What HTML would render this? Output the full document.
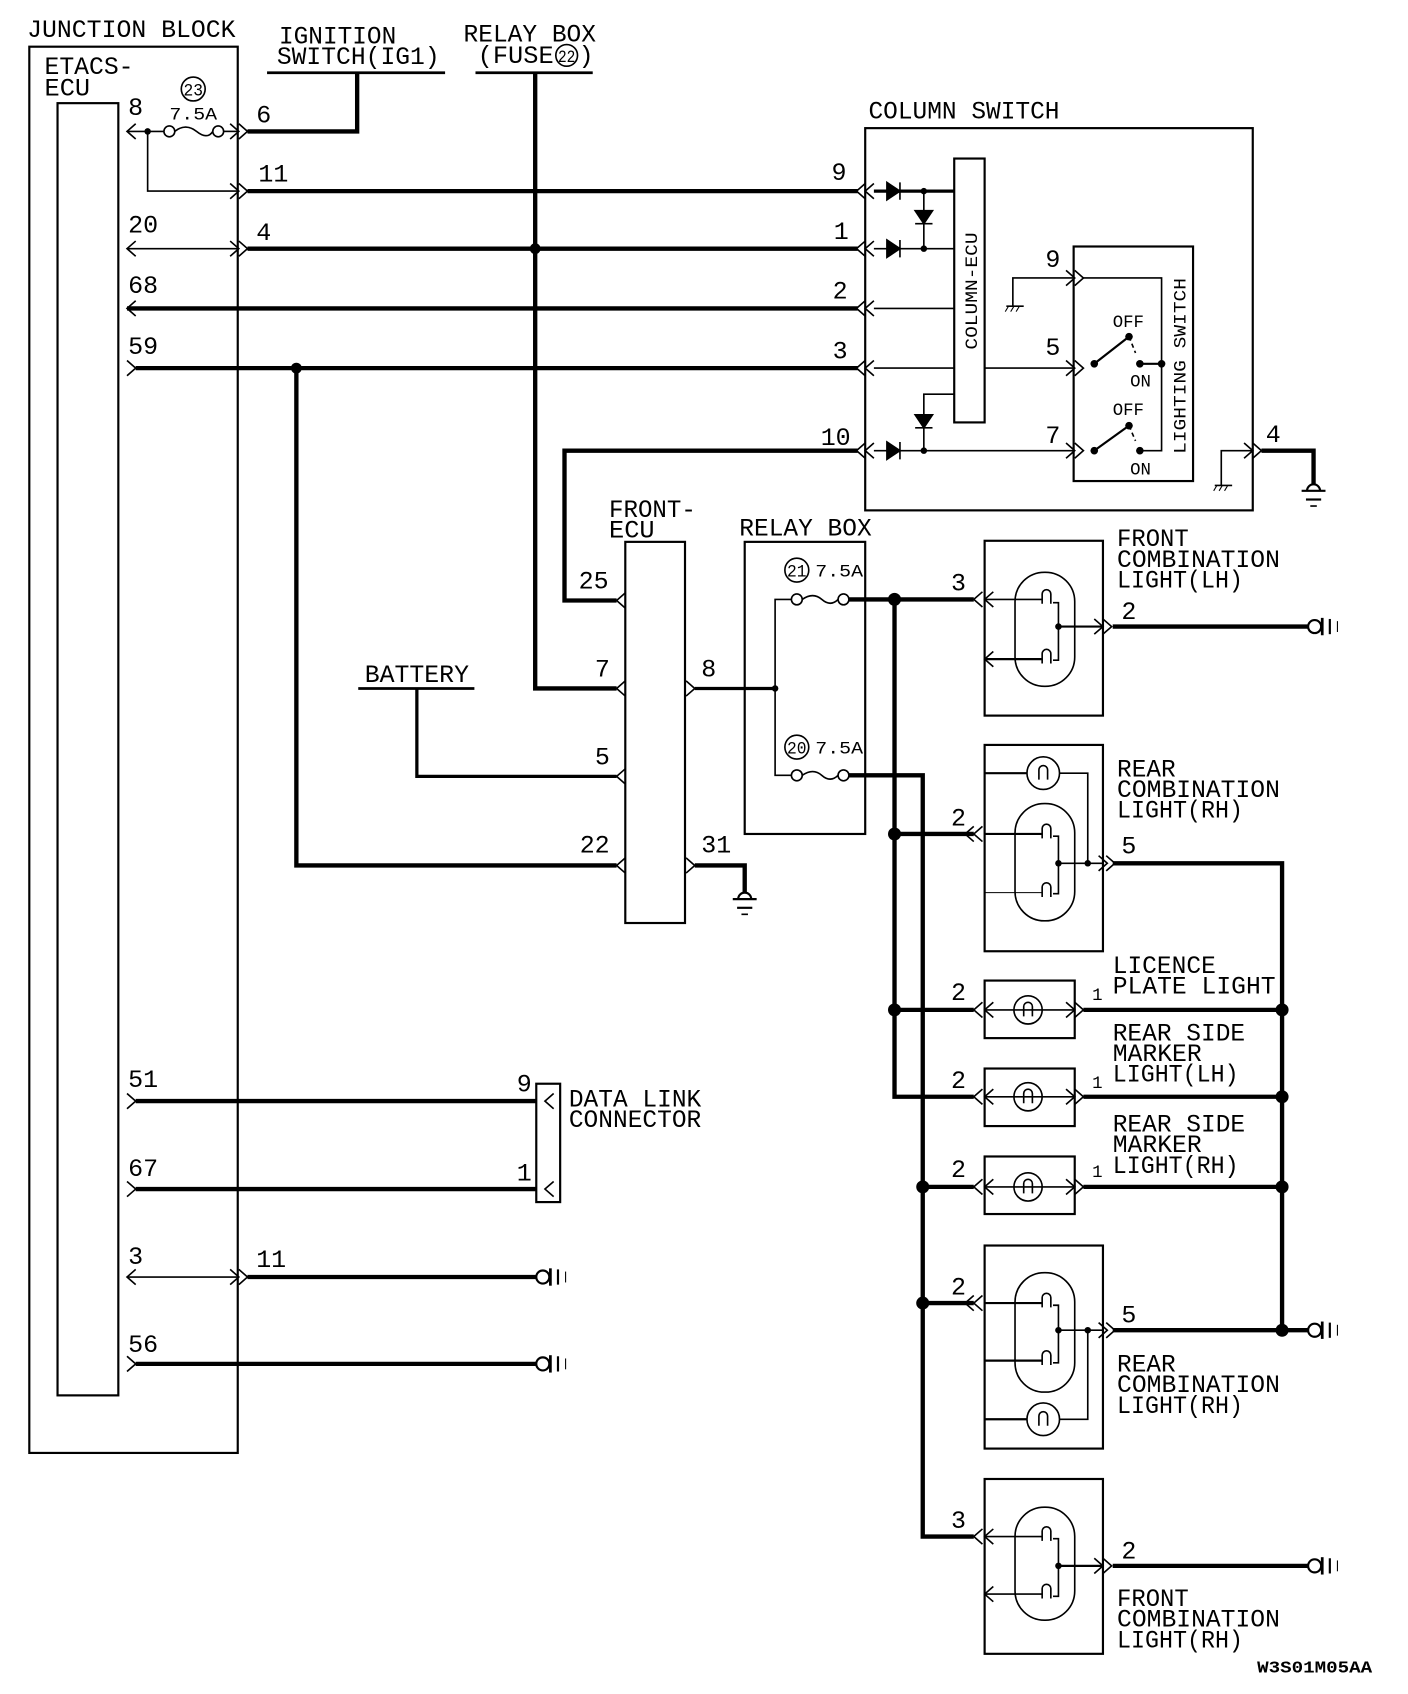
<!DOCTYPE html>
<html><head><meta charset="utf-8"><style>
html,body{margin:0;padding:0;background:#fff}
svg{display:block}
text{font-family:"Liberation Mono",monospace;font-size:23px;fill:#000}
.s{font-size:16px}
</style></head><body>
<svg width="1408" height="1694" viewBox="0 0 1297 1560" preserveAspectRatio="none" xmlns="http://www.w3.org/2000/svg">
<defs>
<g id="gnd"><circle cx="0" cy="0" r="6" fill="#fff" stroke="#000" stroke-width="2"/><line x1="7" y1="-8" x2="7" y2="8" stroke="#000" stroke-width="2.5"/><line x1="14" y1="-7" x2="14" y2="7" stroke="#000" stroke-width="2"/><line x1="21" y1="-5" x2="21" y2="5" stroke="#000" stroke-width="1"/></g>
<g id="earth"><path d="M-6,0 A6,6 0 0 1 6,0" fill="none" stroke="#000" stroke-width="2"/><line x1="-11" y1="0" x2="11" y2="0" stroke="#000" stroke-width="2"/><line x1="-7" y1="8" x2="7" y2="8" stroke="#000" stroke-width="2"/><line x1="-3" y1="14" x2="3" y2="14" stroke="#000" stroke-width="1.5"/></g>
<g id="hatch"><line x1="-8" y1="0" x2="8" y2="0" stroke="#000" stroke-width="1.5"/><path d="M-6,0 l-3,5 M-1,0 l-3,5 M4,0 l-3,5" stroke="#000" stroke-width="1"/></g>
<path id="lt" d="M8,-7 L0,0 L8,7" fill="none" stroke="#000" stroke-width="1.5"/>
<path id="gt" d="M-8,-7 L0,0 L-8,7" fill="none" stroke="#000" stroke-width="1.5"/>
<path id="dr" d="M-6,-8 L6,0 L-6,8 Z M6,-8 L6,8" fill="#000" stroke="#000" stroke-width="1.5"/>
<path id="dd" d="M-8,-6 L8,-6 L0,6 Z M-8,6 L8,6" fill="#000" stroke="#000" stroke-width="1.5"/>
<g id="fil"><path d="M-4,6 L-4,-3 A4,4 0 0 1 4,-3 L4,6" fill="none" stroke="#000" stroke-width="1.5"/></g>
</defs>
<g fill="none" stroke="#000">
<rect x="27" y="43" width="192" height="1295" stroke-width="2"/>
<rect x="53" y="95" width="56" height="1190" stroke-width="2"/>
<line x1="246" y1="67" x2="410" y2="67" stroke-width="2.5"/>
<polyline points="329,67 329,121 228,121" stroke-width="4"/>
<line x1="438" y1="67" x2="546" y2="67" stroke-width="2.5"/>
<polyline points="493,67 493,634 568,634" stroke-width="4"/>
<line x1="117" y1="121" x2="151" y2="121" stroke-width="1.5"/>
<circle cx="156" cy="121" r="5" stroke-width="1.5"/><circle cx="201" cy="121" r="5" stroke-width="1.5"/>
<path d="M161,121 q10,-8 20,0 q10,8 15,0" stroke-width="1.5"/>
<line x1="206" y1="121" x2="220" y2="121" stroke-width="1.5"/>
<polyline points="136,121 136,176 220,176" stroke-width="1.5"/>
<use href="#lt" x="117" y="121"/><use href="#gt" x="220" y="121"/><use href="#gt" x="228" y="121"/>
<use href="#gt" x="220" y="176"/><use href="#gt" x="228" y="176"/>
<line x1="228" y1="176" x2="790" y2="176" stroke-width="4"/>
<line x1="117" y1="229" x2="220" y2="229" stroke-width="1.5"/>
<use href="#lt" x="117" y="229"/><use href="#gt" x="220" y="229"/><use href="#gt" x="228" y="229"/>
<line x1="228" y1="229" x2="790" y2="229" stroke-width="4"/>
<line x1="117" y1="284" x2="790" y2="284" stroke-width="4"/><use href="#lt" x="117" y="284"/>
<line x1="125" y1="339" x2="790" y2="339" stroke-width="4"/><use href="#gt" x="125" y="339"/>
<polyline points="273,339 273,797 568,797" stroke-width="4"/>
<polyline points="790,415 520,415 520,553 568,553" stroke-width="4"/>
<rect x="797" y="118" width="357" height="352" stroke-width="2"/>
<use href="#lt" x="789" y="176"/><use href="#lt" x="797" y="176"/>
<use href="#lt" x="789" y="229"/><use href="#lt" x="797" y="229"/>
<use href="#lt" x="789" y="284"/><use href="#lt" x="797" y="284"/>
<use href="#lt" x="789" y="339"/><use href="#lt" x="797" y="339"/>
<use href="#lt" x="789" y="415"/><use href="#lt" x="797" y="415"/>
<line x1="805" y1="176" x2="879" y2="176" stroke-width="3"/>
<line x1="805" y1="229" x2="879" y2="229" stroke-width="1.5"/>
<line x1="805" y1="284" x2="879" y2="284" stroke-width="1.5"/>
<line x1="805" y1="339" x2="879" y2="339" stroke-width="1.5"/>
<line x1="907" y1="339" x2="990" y2="339" stroke-width="1.5"/>
<line x1="805" y1="415" x2="990" y2="415" stroke-width="1.5"/>
<line x1="851" y1="176" x2="851" y2="229" stroke-width="1.5"/>
<polyline points="879,363 851,363 851,415" stroke-width="1.5"/>
<use href="#dr" x="823" y="176"/><use href="#dr" x="823" y="229"/><use href="#dr" x="823" y="415"/>
<use href="#dd" x="851" y="200"/><use href="#dd" x="851" y="388"/>
<rect x="879" y="146" width="28" height="243" stroke-width="2"/>
<rect x="989" y="227" width="110" height="216" stroke-width="2"/>
<polyline points="933,282 933,256 990,256" stroke-width="1.5"/>
<use href="#hatch" x="935" y="282"/>
<use href="#gt" x="990" y="256"/><use href="#gt" x="998" y="256"/>
<polyline points="998,256 1070,256 1070,415 1050,415" stroke-width="1.5"/>
<use href="#gt" x="990" y="339"/><use href="#gt" x="998" y="339"/>
<use href="#gt" x="990" y="415"/><use href="#gt" x="998" y="415"/>
<line x1="1008" y1="335" x2="1040" y2="310" stroke-width="2"/>
<line x1="1040" y1="310" x2="1046" y2="325" stroke-width="1.5" stroke-dasharray="4,3"/>
<line x1="1050" y1="335" x2="1070" y2="335" stroke-width="2"/>
<line x1="1008" y1="415" x2="1040" y2="392" stroke-width="2"/>
<line x1="1040" y1="392" x2="1046" y2="406" stroke-width="1.5" stroke-dasharray="4,3"/>
<polyline points="1125,447 1125,415 1154,415" stroke-width="1.5"/>
<use href="#hatch" x="1127" y="447"/>
<use href="#gt" x="1154" y="415"/><use href="#gt" x="1162" y="415"/>
<polyline points="1162,415 1210,415 1210,446" stroke-width="4"/>
<use href="#earth" x="1210" y="452"/>
<rect x="576" y="499" width="55" height="351" stroke-width="2"/>
<use href="#lt" x="568" y="553"/><use href="#lt" x="568" y="634"/><use href="#lt" x="568" y="715"/><use href="#lt" x="568" y="797"/>
<line x1="330" y1="634" x2="437" y2="634" stroke-width="2.5"/>
<polyline points="384,634 384,715 568,715" stroke-width="3"/>
<use href="#gt" x="640" y="634"/><use href="#gt" x="640" y="797"/>
<line x1="640" y1="634" x2="714" y2="634" stroke-width="3"/>
<polyline points="640,797 686,797 686,822" stroke-width="4"/>
<use href="#earth" x="686" y="828"/>
<rect x="686" y="499" width="111" height="269" stroke-width="2"/>
<circle cx="734" cy="525" r="11" stroke-width="1.5"/><circle cx="734" cy="688" r="11" stroke-width="1.5"/>
<polyline points="729,552 714,552 714,714 729,714" stroke-width="1.5"/>
<circle cx="734" cy="552" r="5" stroke-width="1.5"/><circle cx="777" cy="552" r="5" stroke-width="1.5"/>
<circle cx="734" cy="714" r="5" stroke-width="1.5"/><circle cx="777" cy="714" r="5" stroke-width="1.5"/>
<path d="M739,552 q10,-7 18,0 q8,7 15,0 M739,714 q10,-7 18,0 q8,7 15,0" stroke-width="1.5"/>
<line x1="782" y1="552" x2="897" y2="552" stroke-width="4"/>
<polyline points="824,552 824,1010 897,1010" stroke-width="4"/>
<polyline points="782,714 850,714 850,1415 897,1415" stroke-width="4"/>
<line x1="824" y1="768" x2="897" y2="768" stroke-width="4"/>
<line x1="824" y1="930" x2="897" y2="930" stroke-width="4"/>
<line x1="850" y1="1093" x2="897" y2="1093" stroke-width="4"/>
<line x1="850" y1="1200" x2="897" y2="1200" stroke-width="4"/>
<polyline points="1025,795 1181,795 1181,1225" stroke-width="4"/>
<line x1="998" y1="930" x2="1181" y2="930" stroke-width="4"/>
<line x1="998" y1="1010" x2="1181" y2="1010" stroke-width="4"/>
<line x1="998" y1="1093" x2="1181" y2="1093" stroke-width="4"/>
<line x1="1025" y1="1225" x2="1205" y2="1225" stroke-width="4"/>
<line x1="1025" y1="577" x2="1205" y2="577" stroke-width="4"/>
<line x1="1025" y1="1442" x2="1205" y2="1442" stroke-width="4"/>
<rect x="907" y="498" width="109" height="161" stroke-width="2"/>
<use href="#lt" x="897" y="552"/><use href="#lt" x="907" y="552"/>
<rect x="935" y="527" width="55" height="105" rx="27" stroke-width="1.5"/>
<polyline points="907,552 960,552" stroke-width="1.5"/><polyline points="907,607 960,607" stroke-width="2"/>
<use href="#lt" x="907" y="607"/>
<use href="#fil" x="964" y="550"/><use href="#fil" x="964" y="605"/>
<polyline points="970,555 975,555 975,608 970,608" stroke-width="1.5"/>
<line x1="975" y1="577" x2="1016" y2="577" stroke-width="2"/>
<use href="#gt" x="1016" y="577"/><use href="#gt" x="1024" y="577"/>
<rect x="907" y="686" width="109" height="190" stroke-width="2"/>
<circle cx="961" cy="712" r="15" stroke-width="1.5"/><use href="#fil" x="961" y="712"/>
<polyline points="907,712 946,712" stroke-width="2"/><polyline points="976,712 1002,712 1002,795" stroke-width="1.5"/>
<rect x="935" y="740" width="55" height="108" rx="27" stroke-width="1.5"/>
<use href="#lt" x="889" y="768"/><use href="#lt" x="897" y="768"/>
<line x1="907" y1="768" x2="960" y2="768" stroke-width="2"/><line x1="907" y1="822" x2="960" y2="822" stroke-width="1"/>
<use href="#fil" x="964" y="766"/><use href="#fil" x="964" y="820"/>
<polyline points="970,770 975,770 975,823 970,823" stroke-width="1.5"/>
<line x1="975" y1="795" x2="1016" y2="795" stroke-width="1.5"/>
<use href="#gt" x="1020" y="795"/><use href="#gt" x="1027" y="795"/>
<rect x="907" y="903" width="83" height="53" stroke-width="2"/>
<rect x="907" y="984" width="83" height="53" stroke-width="2"/>
<rect x="907" y="1065" width="83" height="53" stroke-width="2"/>
<g stroke-width="1.5">
<circle cx="947" cy="930" r="13"/><line x1="907" y1="930" x2="990" y2="930"/>
<circle cx="947" cy="1010" r="13"/><line x1="907" y1="1010" x2="990" y2="1010"/>
<circle cx="947" cy="1093" r="13"/><line x1="907" y1="1093" x2="990" y2="1093"/>
</g>
<use href="#fil" x="947" y="930"/><use href="#fil" x="947" y="1010"/><use href="#fil" x="947" y="1093"/>
<use href="#lt" x="897" y="930"/><use href="#lt" x="907" y="930"/><use href="#gt" x="990" y="930"/><use href="#gt" x="998" y="930"/>
<use href="#lt" x="897" y="1010"/><use href="#lt" x="907" y="1010"/><use href="#gt" x="990" y="1010"/><use href="#gt" x="998" y="1010"/>
<use href="#lt" x="897" y="1093"/><use href="#lt" x="907" y="1093"/><use href="#gt" x="990" y="1093"/><use href="#gt" x="998" y="1093"/>
<rect x="907" y="1147" width="109" height="187" stroke-width="2"/>
<rect x="935" y="1172" width="55" height="110" rx="27" stroke-width="1.5"/>
<use href="#lt" x="889" y="1200"/><use href="#lt" x="897" y="1200"/>
<line x1="907" y1="1200" x2="960" y2="1200" stroke-width="2"/><line x1="907" y1="1253" x2="960" y2="1253" stroke-width="2"/>
<use href="#fil" x="964" y="1198"/><use href="#fil" x="964" y="1251"/>
<polyline points="970,1202 975,1202 975,1255 970,1255" stroke-width="1.5"/>
<line x1="975" y1="1225" x2="1016" y2="1225" stroke-width="1.5"/>
<use href="#gt" x="1020" y="1225"/><use href="#gt" x="1027" y="1225"/>
<circle cx="961" cy="1307" r="15" stroke-width="1.5"/><use href="#fil" x="961" y="1307"/>
<polyline points="907,1307 946,1307" stroke-width="2"/><polyline points="976,1307 1002,1307 1002,1225" stroke-width="1.5"/>
<rect x="907" y="1362" width="109" height="161" stroke-width="2"/>
<rect x="935" y="1388" width="55" height="104" rx="27" stroke-width="1.5"/>
<use href="#lt" x="897" y="1415"/><use href="#lt" x="907" y="1415"/>
<line x1="907" y1="1415" x2="960" y2="1415" stroke-width="1.5"/><line x1="907" y1="1468" x2="960" y2="1468" stroke-width="1.5"/>
<use href="#lt" x="907" y="1468"/>
<use href="#fil" x="964" y="1413"/><use href="#fil" x="964" y="1466"/>
<polyline points="970,1417 975,1417 975,1470 970,1470" stroke-width="1.5"/>
<line x1="975" y1="1442" x2="1016" y2="1442" stroke-width="2"/>
<use href="#gt" x="1016" y="1442"/><use href="#gt" x="1024" y="1442"/>
<rect x="494" y="998" width="22" height="109" stroke-width="2"/>
<line x1="125" y1="1014" x2="494" y2="1014" stroke-width="4"/><use href="#gt" x="125" y="1014"/>
<line x1="125" y1="1095" x2="494" y2="1095" stroke-width="4"/><use href="#gt" x="125" y="1095"/>
<use href="#lt" x="502" y="1014"/><use href="#lt" x="502" y="1095"/>
<line x1="117" y1="1176" x2="220" y2="1176" stroke-width="1.5"/>
<use href="#lt" x="117" y="1176"/><use href="#gt" x="220" y="1176"/><use href="#gt" x="228" y="1176"/>
<line x1="228" y1="1176" x2="494" y2="1176" stroke-width="4"/>
<line x1="125" y1="1256" x2="494" y2="1256" stroke-width="4"/><use href="#gt" x="125" y="1256"/>
</g>
<use href="#gnd" x="500" y="1176"/><use href="#gnd" x="500" y="1256"/>
<use href="#gnd" x="1211" y="577"/><use href="#gnd" x="1211" y="1225"/><use href="#gnd" x="1211" y="1442"/>
<g fill="#000">
<circle cx="136" cy="121" r="3"/><circle cx="493" cy="229" r="5"/><circle cx="273" cy="339" r="5"/>
<circle cx="851" cy="176" r="3"/><circle cx="851" cy="229" r="3"/><circle cx="851" cy="415" r="3"/>
<circle cx="1008" cy="335" r="3.5"/><circle cx="1040" cy="310" r="3.5"/><circle cx="1050" cy="335" r="3.5"/><circle cx="1070" cy="335" r="3.5"/>
<circle cx="1008" cy="415" r="3.5"/><circle cx="1040" cy="392" r="3.5"/><circle cx="1050" cy="415" r="3.5"/>
<circle cx="714" cy="634" r="3"/>
<circle cx="824" cy="552" r="6"/><circle cx="824" cy="768" r="6"/><circle cx="824" cy="930" r="6"/>
<circle cx="850" cy="1093" r="6"/><circle cx="850" cy="1200" r="6"/>
<circle cx="1181" cy="930" r="6"/><circle cx="1181" cy="1010" r="6"/><circle cx="1181" cy="1093" r="6"/><circle cx="1181" cy="1225" r="6"/>
<circle cx="975" cy="577" r="3"/><circle cx="975" cy="795" r="3"/><circle cx="1002" cy="795" r="3"/>
<circle cx="975" cy="1225" r="3"/><circle cx="1002" cy="1225" r="3"/><circle cx="975" cy="1442" r="3"/>
</g>
<text x="25" y="34" textLength="192" lengthAdjust="spacingAndGlyphs">JUNCTION BLOCK</text>
<text x="41" y="68" textLength="82" lengthAdjust="spacingAndGlyphs">ETACS-</text>
<text x="41" y="88" textLength="42" lengthAdjust="spacingAndGlyphs">ECU</text>
<text x="257" y="40" textLength="108" lengthAdjust="spacingAndGlyphs">IGNITION</text>
<text x="255" y="59" textLength="150" lengthAdjust="spacingAndGlyphs">SWITCH(IG1)</text>
<text x="427" y="38" textLength="122" lengthAdjust="spacingAndGlyphs">RELAY BOX</text>
<text x="440" y="58" textLength="70" lengthAdjust="spacingAndGlyphs">(FUSE</text>
<circle cx="522" cy="51" r="10" fill="none" stroke="#000" stroke-width="1.5"/>
<text x="514" y="57" class="s" textLength="16" lengthAdjust="spacingAndGlyphs">22</text>
<text x="533" y="58">)</text>
<circle cx="178" cy="82" r="11" fill="none" stroke="#000" stroke-width="1.5"/>
<text x="169" y="88" class="s" textLength="18" lengthAdjust="spacingAndGlyphs">23</text>
<text x="156" y="110" class="s" textLength="44" lengthAdjust="spacingAndGlyphs">7.5A</text>
<text x="118" y="106">8</text><text x="236" y="113">6</text>
<text x="238" y="167">11</text><text x="766" y="166">9</text>
<text x="118" y="214">20</text><text x="236" y="221">4</text><text x="768" y="220">1</text>
<text x="118" y="270">68</text><text x="767" y="275">2</text>
<text x="118" y="326">59</text><text x="767" y="330">3</text>
<text x="756" y="410">10</text>
<text x="800" y="109" textLength="176" lengthAdjust="spacingAndGlyphs">COLUMN SWITCH</text>
<text transform="translate(900,322) rotate(-90)" class="s" textLength="108" lengthAdjust="spacingAndGlyphs">COLUMN-ECU</text>
<text transform="translate(1092,418) rotate(-90)" class="s" textLength="162" lengthAdjust="spacingAndGlyphs">LIGHTING SWITCH</text>
<text x="963" y="246">9</text><text x="963" y="327">5</text><text x="963" y="408">7</text>
<text x="1025" y="301" class="s">OFF</text><text x="1041" y="356" class="s">ON</text>
<text x="1025" y="382" class="s">OFF</text><text x="1041" y="437" class="s">ON</text>
<text x="1166" y="407">4</text>
<text x="561" y="476" textLength="80" lengthAdjust="spacingAndGlyphs">FRONT-</text>
<text x="561" y="495" textLength="42" lengthAdjust="spacingAndGlyphs">ECU</text>
<text x="681" y="493" textLength="122" lengthAdjust="spacingAndGlyphs">RELAY BOX</text>
<text x="533" y="542">25</text><text x="548" y="623">7</text><text x="548" y="704">5</text><text x="534" y="785">22</text>
<text x="646" y="623">8</text><text x="646" y="785">31</text>
<text x="336" y="628" textLength="96" lengthAdjust="spacingAndGlyphs">BATTERY</text>
<text x="725" y="531" class="s" textLength="18" lengthAdjust="spacingAndGlyphs">21</text>
<text x="751" y="531" class="s" textLength="44" lengthAdjust="spacingAndGlyphs">7.5A</text>
<text x="725" y="694" class="s" textLength="18" lengthAdjust="spacingAndGlyphs">20</text>
<text x="751" y="694" class="s" textLength="44" lengthAdjust="spacingAndGlyphs">7.5A</text>
<text x="876" y="544">3</text><text x="1033" y="570">2</text>
<text x="1029" y="503" textLength="66" lengthAdjust="spacingAndGlyphs">FRONT</text>
<text x="1029" y="522" textLength="150" lengthAdjust="spacingAndGlyphs">COMBINATION</text>
<text x="1029" y="541" textLength="116" lengthAdjust="spacingAndGlyphs">LIGHT(LH)</text>
<text x="876" y="760">2</text><text x="1033" y="786">5</text>
<text x="1029" y="715" textLength="54" lengthAdjust="spacingAndGlyphs">REAR</text>
<text x="1029" y="734" textLength="150" lengthAdjust="spacingAndGlyphs">COMBINATION</text>
<text x="1029" y="753" textLength="116" lengthAdjust="spacingAndGlyphs">LIGHT(RH)</text>
<text x="1025" y="896" textLength="95" lengthAdjust="spacingAndGlyphs">LICENCE</text>
<text x="1025" y="915" textLength="150" lengthAdjust="spacingAndGlyphs">PLATE LIGHT</text>
<text x="876" y="921">2</text><text x="1006" y="921" class="s">1</text>
<text x="1025" y="958" textLength="122" lengthAdjust="spacingAndGlyphs">REAR SIDE</text>
<text x="1025" y="977" textLength="82" lengthAdjust="spacingAndGlyphs">MARKER</text>
<text x="1025" y="996" textLength="116" lengthAdjust="spacingAndGlyphs">LIGHT(LH)</text>
<text x="876" y="1002">2</text><text x="1006" y="1002" class="s">1</text>
<text x="1025" y="1042" textLength="122" lengthAdjust="spacingAndGlyphs">REAR SIDE</text>
<text x="1025" y="1061" textLength="82" lengthAdjust="spacingAndGlyphs">MARKER</text>
<text x="1025" y="1080" textLength="116" lengthAdjust="spacingAndGlyphs">LIGHT(RH)</text>
<text x="876" y="1084">2</text><text x="1006" y="1084" class="s">1</text>
<text x="876" y="1192">2</text><text x="1033" y="1218">5</text>
<text x="1029" y="1263" textLength="54" lengthAdjust="spacingAndGlyphs">REAR</text>
<text x="1029" y="1282" textLength="150" lengthAdjust="spacingAndGlyphs">COMBINATION</text>
<text x="1029" y="1301" textLength="116" lengthAdjust="spacingAndGlyphs">LIGHT(RH)</text>
<text x="876" y="1407">3</text><text x="1033" y="1435">2</text>
<text x="1029" y="1479" textLength="66" lengthAdjust="spacingAndGlyphs">FRONT</text>
<text x="1029" y="1498" textLength="150" lengthAdjust="spacingAndGlyphs">COMBINATION</text>
<text x="1029" y="1517" textLength="116" lengthAdjust="spacingAndGlyphs">LIGHT(RH)</text>
<text x="118" y="1001">51</text><text x="476" y="1005">9</text>
<text x="118" y="1083">67</text><text x="476" y="1087">1</text>
<text x="524" y="1019" textLength="122" lengthAdjust="spacingAndGlyphs">DATA LINK</text>
<text x="524" y="1038" textLength="122" lengthAdjust="spacingAndGlyphs">CONNECTOR</text>
<text x="118" y="1164">3</text><text x="236" y="1167">11</text>
<text x="118" y="1245">56</text>
<text x="1158" y="1540" style="font-size:15px;font-weight:bold" textLength="106" lengthAdjust="spacingAndGlyphs">W3S01M05AA</text>
</svg>
</body></html>
